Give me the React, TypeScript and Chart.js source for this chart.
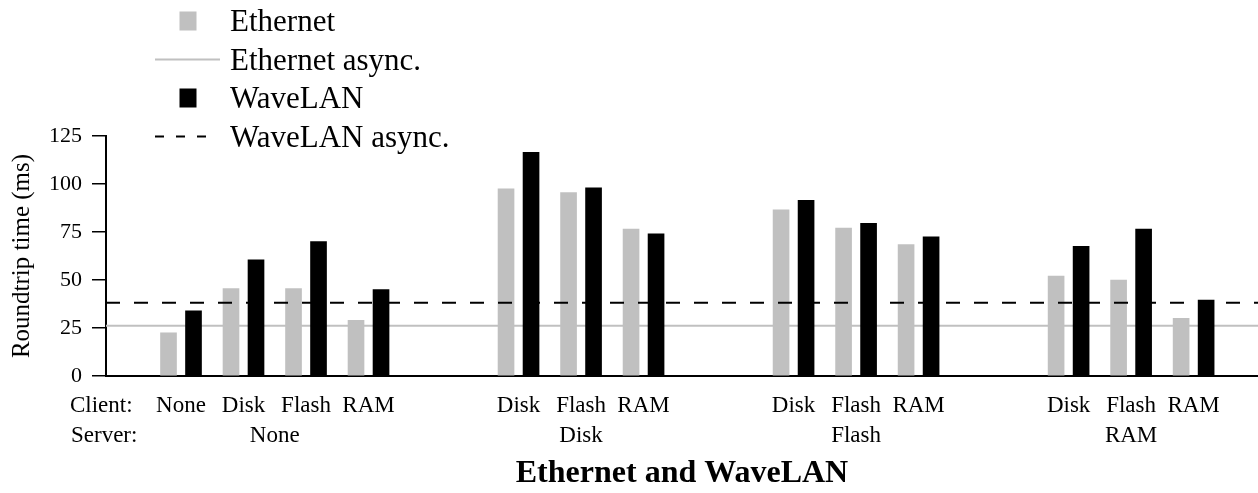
import React, { useEffect, useRef } from "react";
import { Chart, registerables } from "chart.js";

Chart.register(...registerables);

// ---------- data ----------
const serverLabels = ["None", "Disk", "Flash", "RAM"];
const clientLabels = [
  ["None", "Disk", "Flash", "RAM"],
  ["Disk", "Flash", "RAM"],
  ["Disk", "Flash", "RAM"],
  ["Disk", "Flash", "RAM"],
];
const ethernetValues = [22.5, 45.5, 45.5, 29, 97.5, 95.5, 76.5, 86.5, 77, 68.5, 52, 50, 30];
const wavelanValues = [34, 60.5, 70, 45, 116.5, 98, 74, 91.5, 79.5, 72.5, 67.5, 76.5, 39.5];
const ethernetAsync = 26.2;
const wavelanAsync = 38.2;
const yTickValues = [0, 25, 50, 75, 100, 125];
const rowLabels = ["Client:", "Server:"];
const seriesNames = ["Ethernet", "Ethernet async.", "WaveLAN", "WaveLAN async."];
const yAxisTitle = "Roundtrip time (ms)";
const chartTitle = "Ethernet and WaveLAN";

// ---------- layout (in client-slot units) ----------
const LEAD = 1.2;
const GROUP_GAP = 2.4;
const PAIR_OFFSET = 0.2;
const X_MAX = 18.43;

const slotPositions: number[] = [];
const groupCenters: number[] = [];
{
  let cursor = LEAD;
  clientLabels.forEach((g) => {
    const start = cursor;
    g.forEach((_, i) => slotPositions.push(start + i));
    groupCenters.push(start + (g.length - 1) / 2);
    cursor = start + g.length - 1 + GROUP_GAP;
  });
}
const flatClients = clientLabels.flat();

const GRAY = "#c0c0c0";
const BLACK = "#000000";
const SERIF = '"Liberation Serif", "Times New Roman", serif';

const overlayPlugin = {
  id: "overlay",
  afterDraw(chart: any) {
    const ctx = chart.ctx as CanvasRenderingContext2D;
    const xs = chart.scales.x;
    ctx.save();
    // x category labels
    ctx.fillStyle = BLACK;
    ctx.font = `23px ${SERIF}`;
    ctx.textBaseline = "alphabetic";
    ctx.textAlign = "left";
    ctx.fillText(rowLabels[0], 70, 411.5);
    ctx.fillText(rowLabels[1], 71, 441.5);
    ctx.textAlign = "center";
    flatClients.forEach((c, i) => {
      ctx.fillText(c, xs.getPixelForValue(slotPositions[i]), 411.5);
    });
    serverLabels.forEach((s, i) => {
      ctx.fillText(s, xs.getPixelForValue(groupCenters[i]), 441.5);
    });

    // legend
    const rowsY = [21, 59.5, 98, 136.5];
    const textX = 230;
    ctx.font = `31px ${SERIF}`;
    ctx.textAlign = "left";
    seriesNames.forEach((name, i) => {
      const y = rowsY[i];
      if (i === 0 || i === 2) {
        ctx.fillStyle = i === 0 ? GRAY : BLACK;
        ctx.fillRect(179.5, y - 9.5, 17, 19);
      } else {
        ctx.beginPath();
        ctx.strokeStyle = i === 1 ? GRAY : BLACK;
        ctx.lineWidth = 2;
        ctx.setLineDash(i === 3 ? [9, 12] : []);
        ctx.moveTo(155, y);
        ctx.lineTo(i === 3 ? 208 : 220, y);
        ctx.stroke();
        ctx.setLineDash([]);
      }
      ctx.fillStyle = BLACK;
      ctx.fillText(name, textX, y + 10);
    });
    ctx.restore();
  },
};

export default function App() {
  const canvasRef = useRef<HTMLCanvasElement | null>(null);

  useEffect(() => {
    const canvas = canvasRef.current;
    if (!canvas) return;
    const chart = new Chart(canvas, {
      type: "bar",
      data: {
        datasets: [
          {
            type: "bar",
            label: seriesNames[0],
            data: ethernetValues.map((v, i) => ({ x: slotPositions[i] - PAIR_OFFSET, y: v })),
            backgroundColor: GRAY,
            borderWidth: 0,
            barThickness: 16,
            grouped: false,
            order: 4,
          } as any,
          {
            type: "line",
            label: seriesNames[1],
            data: [
              { x: 0, y: ethernetAsync },
              { x: X_MAX, y: ethernetAsync },
            ],
            borderColor: GRAY,
            borderWidth: 2,
            pointRadius: 0,
            fill: false,
            order: 3,
          } as any,
          {
            type: "bar",
            label: seriesNames[2],
            data: wavelanValues.map((v, i) => ({ x: slotPositions[i] + PAIR_OFFSET, y: v })),
            backgroundColor: BLACK,
            borderWidth: 0,
            barThickness: 16,
            grouped: false,
            order: 2,
          } as any,
          {
            type: "line",
            label: seriesNames[3],
            data: [
              { x: 0, y: wavelanAsync },
              { x: X_MAX, y: wavelanAsync },
            ],
            borderColor: BLACK,
            borderWidth: 2,
            borderDash: [14, 14],
            pointRadius: 0,
            fill: false,
            order: 1,
          } as any,
        ],
      },
      options: {
        responsive: false,
        devicePixelRatio: 1,
        animation: false,
        layout: { padding: { top: 136, left: 0, right: 0, bottom: 0 } },
        plugins: {
          legend: { display: false },
          tooltip: { enabled: false },
          title: {
            display: true,
            text: chartTitle,
            position: "bottom",
            fullSize: false,
            color: BLACK,
            font: { family: SERIF, size: 32, weight: "bold" },
            padding: { top: 0, bottom: 0 },
          },
        },
        scales: {
          x: {
            type: "linear",
            min: 0,
            max: X_MAX,
            offset: false,
            grid: { display: false },
            ticks: { display: false },
            border: { display: true, color: BLACK, width: 2 },
            afterFit: (scale: any) => {
              scale.height = 78.6;
            },
          },
          y: {
            type: "linear",
            min: 0,
            max: 125,
            afterBuildTicks: (scale: any) => {
              scale.ticks = yTickValues.map((v) => ({ value: v }));
            },
            afterFit: (scale: any) => {
              scale.width = 106;
            },
            grid: {
              display: true,
              drawOnChartArea: false,
              drawTicks: true,
              tickLength: 14,
              color: BLACK,
              lineWidth: 1.5,
            },
            border: { display: true, color: BLACK, width: 2 },
            ticks: {
              color: BLACK,
              padding: 10,
              font: { family: SERIF, size: 22 },
            },
            title: {
              display: true,
              text: yAxisTitle,
              color: BLACK,
              font: { family: SERIF, size: 25 },
              padding: { top: 7, bottom: 0 },
            },
          },
        },
      },
      plugins: [overlayPlugin],
    } as any);
    return () => chart.destroy();
  }, []);

  return (
    <div style={{ position: "fixed", left: 0, top: 0, width: 1258, height: 493, background: "#fff" }}>
      <canvas ref={canvasRef} width={1258} height={493} />
    </div>
  );
}
